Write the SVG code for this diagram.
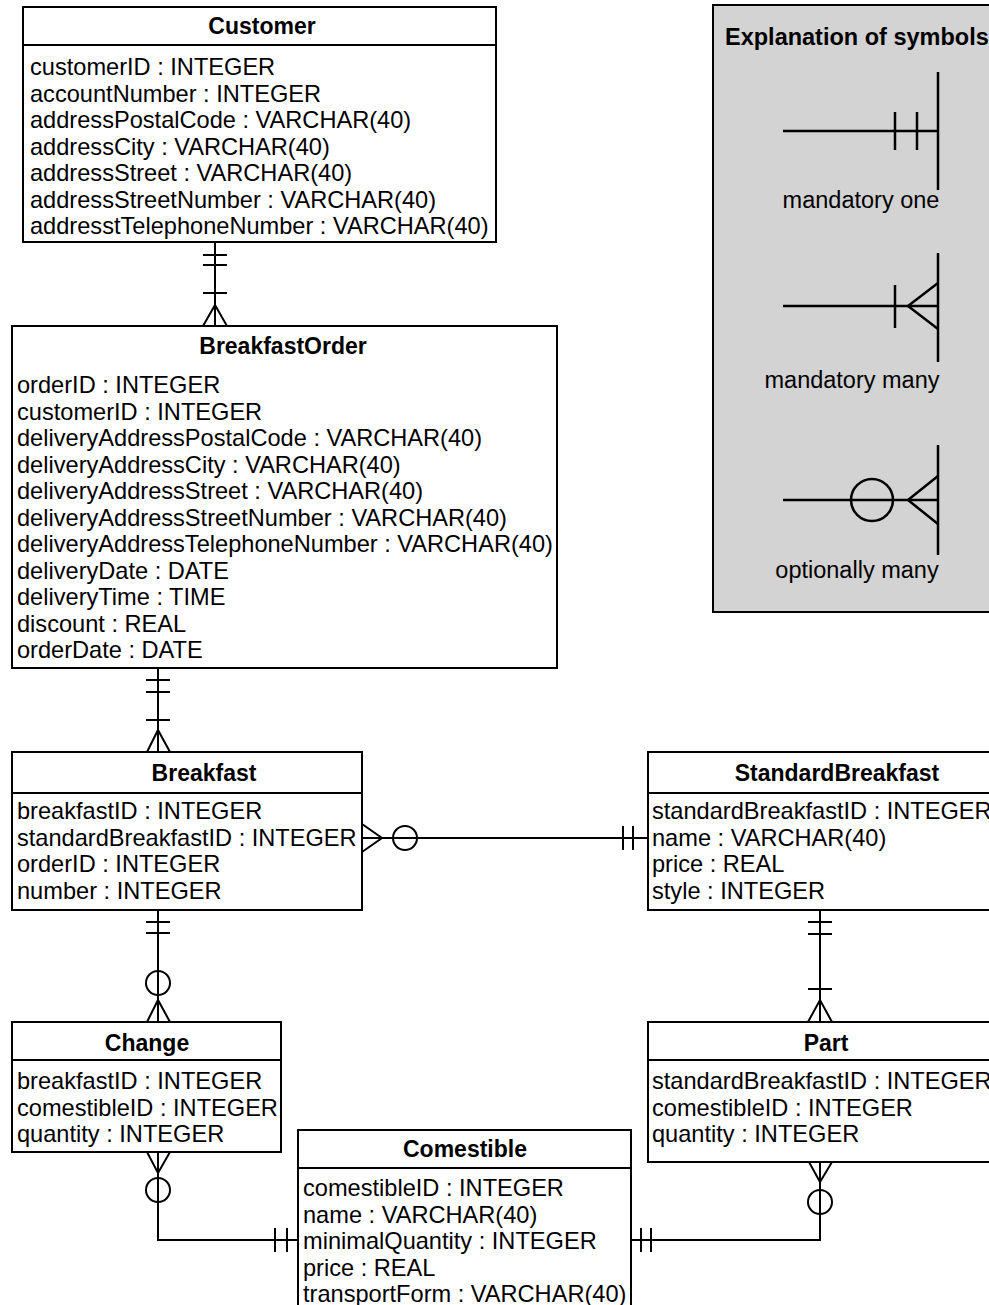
<svg xmlns="http://www.w3.org/2000/svg" width="989" height="1305" viewBox="0 0 989 1305">
<style>
.box{fill:#fff;stroke:#000;stroke-width:2}
.div{stroke:#000;stroke-width:2}
.t{font-family:"Liberation Sans",Arial,sans-serif;font-size:23.6px;fill:#000}
.h{font-family:"Liberation Sans",Arial,sans-serif;font-size:23px;font-weight:bold;text-anchor:middle;fill:#000}
.c{stroke:#000;stroke-width:2;fill:none}
.lg{stroke:#000;stroke-width:2.5;fill:none}
.lbl{font-family:"Liberation Sans",Arial,sans-serif;font-size:23.5px;text-anchor:middle;fill:#000}
</style>
<rect x="0" y="0" width="989" height="1305" fill="#fff"/>

<g id="legend">
<rect x="713" y="5" width="290" height="607" fill="#d3d3d3" stroke="#000" stroke-width="2"/>
<text x="725" y="45" style="font-family:'Liberation Sans',Arial,sans-serif;font-size:23.5px;font-weight:bold">Explanation of symbols</text>
<line class="lg" x1="783" y1="131" x2="938" y2="131"/>
<line class="lg" x1="938" y1="72" x2="938" y2="190"/>
<line class="lg" x1="895" y1="112" x2="895" y2="150"/>
<line class="lg" x1="917" y1="112" x2="917" y2="150"/>
<text class="lbl" x="861" y="208">mandatory one</text>
<line class="lg" x1="783" y1="306" x2="938" y2="306"/>
<line class="lg" x1="938" y1="253" x2="938" y2="362"/>
<line class="lg" x1="895" y1="285" x2="895" y2="328"/>
<polyline class="lg" points="938,283 908,306 938,329"/>
<text class="lbl" x="852" y="388">mandatory many</text>
<line class="lg" x1="783" y1="500" x2="938" y2="500"/>
<line class="lg" x1="938" y1="445" x2="938" y2="555"/>
<circle class="lg" cx="872" cy="500" r="21"/>
<polyline class="lg" points="938,476 908,500 938,524"/>
<text class="lbl" x="857" y="578">optionally many</text>
</g>

<g id="customer">
<rect class="box" x="23" y="7" width="473" height="235"/>
<line class="div" x1="23" y1="45" x2="496" y2="45"/>
<text class="h" x="262" y="34">Customer</text>
<text class="t" x="30" y="75">customerID : INTEGER</text>
<text class="t" x="30" y="101.5">accountNumber : INTEGER</text>
<text class="t" x="30" y="128">addressPostalCode : VARCHAR(40)</text>
<text class="t" x="30" y="154.5">addressCity : VARCHAR(40)</text>
<text class="t" x="30" y="181">addressStreet : VARCHAR(40)</text>
<text class="t" x="30" y="207.5">addressStreetNumber : VARCHAR(40)</text>
<text class="t" x="30" y="234">addresstTelephoneNumber : VARCHAR(40)</text>
</g>

<g id="breakfastorder">
<rect class="box" x="12" y="326" width="545" height="342"/>
<text class="h" x="283" y="354">BreakfastOrder</text>
<text class="t" x="17" y="393">orderID : INTEGER</text>
<text class="t" x="17" y="419.5">customerID : INTEGER</text>
<text class="t" x="17" y="446">deliveryAddressPostalCode : VARCHAR(40)</text>
<text class="t" x="17" y="472.5">deliveryAddressCity : VARCHAR(40)</text>
<text class="t" x="17" y="499">deliveryAddressStreet : VARCHAR(40)</text>
<text class="t" x="17" y="525.5">deliveryAddressStreetNumber : VARCHAR(40)</text>
<text class="t" x="17" y="552">deliveryAddressTelephoneNumber : VARCHAR(40)</text>
<text class="t" x="17" y="578.5">deliveryDate : DATE</text>
<text class="t" x="17" y="605">deliveryTime : TIME</text>
<text class="t" x="17" y="631.5">discount : REAL</text>
<text class="t" x="17" y="658">orderDate : DATE</text>
</g>

<g id="breakfast">
<rect class="box" x="12" y="752" width="350" height="158"/>
<line class="div" x1="12" y1="793" x2="362" y2="793"/>
<text class="h" x="204" y="781">Breakfast</text>
<text class="t" x="17" y="819">breakfastID : INTEGER</text>
<text class="t" x="17" y="845.5">standardBreakfastID : INTEGER</text>
<text class="t" x="17" y="872">orderID : INTEGER</text>
<text class="t" x="17" y="898.5">number : INTEGER</text>
</g>

<g id="standardbreakfast">
<rect class="box" x="648" y="752" width="345" height="158"/>
<line class="div" x1="648" y1="793" x2="993" y2="793"/>
<text class="h" x="837" y="781">StandardBreakfast</text>
<text class="t" x="652" y="819">standardBreakfastID : INTEGER</text>
<text class="t" x="652" y="845.5">name : VARCHAR(40)</text>
<text class="t" x="652" y="872">price : REAL</text>
<text class="t" x="652" y="898.5">style : INTEGER</text>
</g>

<g id="change">
<rect class="box" x="12" y="1022" width="269" height="130"/>
<line class="div" x1="12" y1="1060" x2="281" y2="1060"/>
<text class="h" x="147" y="1051">Change</text>
<text class="t" x="17" y="1089">breakfastID : INTEGER</text>
<text class="t" x="17" y="1115.5">comestibleID : INTEGER</text>
<text class="t" x="17" y="1142">quantity : INTEGER</text>
</g>

<g id="part">
<rect class="box" x="648" y="1022" width="345" height="140"/>
<line class="div" x1="648" y1="1060" x2="993" y2="1060"/>
<text class="h" x="826" y="1051">Part</text>
<text class="t" x="652" y="1089">standardBreakfastID : INTEGER</text>
<text class="t" x="652" y="1115.5">comestibleID : INTEGER</text>
<text class="t" x="652" y="1142">quantity : INTEGER</text>
</g>

<g id="comestible">
<rect class="box" x="298" y="1130" width="333" height="185"/>
<line class="div" x1="298" y1="1168" x2="631" y2="1168"/>
<text class="h" x="465" y="1157">Comestible</text>
<text class="t" x="303" y="1196">comestibleID : INTEGER</text>
<text class="t" x="303" y="1222.5">name : VARCHAR(40)</text>
<text class="t" x="303" y="1249">minimalQuantity : INTEGER</text>
<text class="t" x="303" y="1275.5">price : REAL</text>
<text class="t" x="303" y="1302">transportForm : VARCHAR(40)</text>
</g>

<g id="connectors">
<!-- Customer - BreakfastOrder -->
<line class="c" x1="215" y1="242" x2="215" y2="326"/>
<line class="c" x1="203" y1="255" x2="227" y2="255"/>
<line class="c" x1="203" y1="265" x2="227" y2="265"/>
<line class="c" x1="203" y1="293" x2="227" y2="293"/>
<polyline class="c" points="203,326 215,305 227,326"/>
<!-- BreakfastOrder - Breakfast -->
<line class="c" x1="158" y1="668" x2="158" y2="752"/>
<line class="c" x1="146" y1="680" x2="170" y2="680"/>
<line class="c" x1="146" y1="692" x2="170" y2="692"/>
<line class="c" x1="146" y1="720" x2="170" y2="720"/>
<polyline class="c" points="147,752 158,730 170,752"/>
<!-- Breakfast - StandardBreakfast -->
<line class="c" x1="362" y1="838" x2="648" y2="838"/>
<polyline class="c" points="362,824 382,838 362,852"/>
<circle class="c" cx="405" cy="838" r="12"/>
<line class="c" x1="623" y1="826" x2="623" y2="850"/>
<line class="c" x1="633" y1="826" x2="633" y2="850"/>
<!-- Breakfast - Change -->
<line class="c" x1="158" y1="910" x2="158" y2="1022"/>
<line class="c" x1="146" y1="922" x2="170" y2="922"/>
<line class="c" x1="146" y1="933" x2="170" y2="933"/>
<circle class="c" cx="158" cy="983" r="12"/>
<polyline class="c" points="147,1022 158,1000 170,1022"/>
<!-- StandardBreakfast - Part -->
<line class="c" x1="820" y1="910" x2="820" y2="1022"/>
<line class="c" x1="808" y1="922" x2="832" y2="922"/>
<line class="c" x1="808" y1="934" x2="832" y2="934"/>
<line class="c" x1="808" y1="989" x2="832" y2="989"/>
<polyline class="c" points="808,1022 820,1000 832,1022"/>
<!-- Change - Comestible -->
<path class="c" d="M158 1152 V1240 H298"/>
<polyline class="c" points="147,1152 158,1173 170,1152"/>
<circle class="c" cx="158" cy="1190" r="12"/>
<line class="c" x1="275" y1="1228" x2="275" y2="1252"/>
<line class="c" x1="287" y1="1228" x2="287" y2="1252"/>
<!-- Part - Comestible -->
<path class="c" d="M820 1162 V1240 H631"/>
<polyline class="c" points="809,1162 820,1182 832,1162"/>
<circle class="c" cx="820" cy="1202" r="12"/>
<line class="c" x1="641" y1="1228" x2="641" y2="1252"/>
<line class="c" x1="651" y1="1228" x2="651" y2="1252"/>
</g>
</svg>
